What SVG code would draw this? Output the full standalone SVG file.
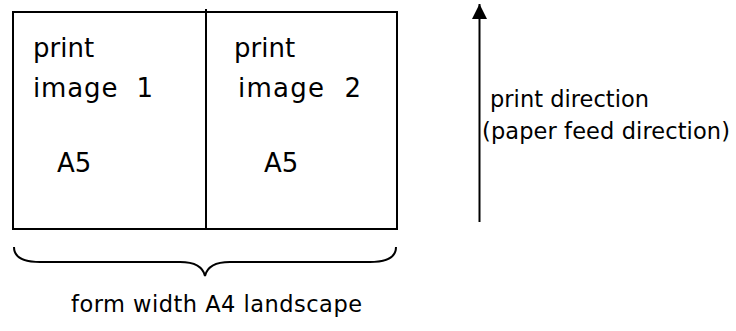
<svg xmlns="http://www.w3.org/2000/svg" width="736" height="331" viewBox="0 0 736 331">
<style>
text{font-family:"DejaVu Sans",sans-serif;fill:#000}
.big{font-size:26px}
.mid{font-size:22.5px}
.ln{stroke:#000;stroke-width:2;fill:none}
</style>
<defs>
<marker id="ah" markerWidth="16" markerHeight="16" refX="15" refY="7.5" orient="auto" markerUnits="userSpaceOnUse" viewBox="0 0 16 16">
<path d="M0,0 L15,7.5 L0,15 Z" fill="#000"/>
</marker>
</defs>
<rect width="736" height="331" fill="#fff"/>
<g id="image1">
<rect class="ln" x="13" y="12" width="193" height="217"/>
<text class="big" x="33" y="57">print</text>
<text class="big" x="33" y="97" xml:space="preserve" textLength="120">image  1</text>
<text class="big" x="57" y="172">A5</text>
</g>
<g id="image2">
<rect class="ln" x="206" y="12" width="191" height="217"/>
<text class="big" x="234" y="57">print</text>
<text class="big" x="238" y="97" xml:space="preserve" textLength="123">image  2</text>
<text class="big" x="264" y="172">A5</text>
</g>
<g id="connectors">
<line class="ln" x1="206" y1="9" x2="206" y2="229"/>
<line class="ln" x1="479.5" y1="222" x2="479.5" y2="4" marker-end="url(#ah)"/>
<path class="ln" d="M14,247 C14,257 22,262 40,262 L180,262 C195,262 203,267 205,276 C207,267 215,262 230,262 L370,262 C388,262 396,257 396,247"/>
</g>
<g id="direction">
<text class="mid" x="490" y="107" textLength="159">print direction</text>
<text class="mid" x="482" y="139" textLength="248">(paper feed direction)</text>
</g>
<g id="formwidth">
<text class="mid" x="71" y="312" textLength="291">form width A4 landscape</text>
</g>
</svg>
